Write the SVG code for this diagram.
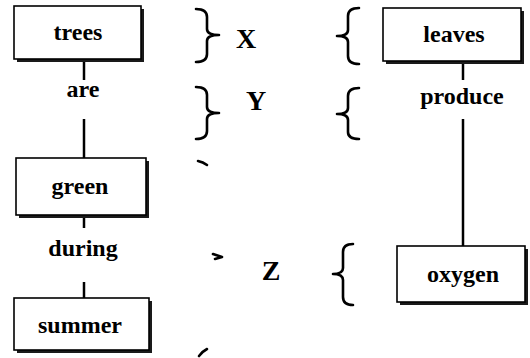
<svg xmlns="http://www.w3.org/2000/svg" width="530" height="358" viewBox="0 0 530 358">
<style>
.lbl{font-family:"Liberation Serif","Times New Roman",serif;font-weight:bold;font-size:24px;text-anchor:middle;fill:#000}
.big{font-family:"Liberation Serif","Times New Roman",serif;font-weight:bold;font-size:28px;text-anchor:middle;fill:#000}
.box{fill:#fff;stroke:#000;stroke-width:1.6}
.shd{fill:#1a1a1a}
.ln{stroke:#000;stroke-width:2.5;fill:none}
.br{stroke:#000;stroke-width:2.6;fill:none;stroke-linecap:round;stroke-linejoin:round}
</style>
<rect width="530" height="358" fill="#fff"/>
<g id="connectors">
<line class="ln" x1="84" y1="62" x2="84" y2="80"/>
<line class="ln" x1="84" y1="119" x2="84" y2="158"/>
<line class="ln" x1="84" y1="218" x2="84" y2="228"/>
<line class="ln" x1="84" y1="282" x2="84" y2="298"/>
<line class="ln" x1="463" y1="62" x2="463" y2="80"/>
<line class="ln" x1="463" y1="119" x2="463" y2="246"/>
</g>
<g id="node-trees">
<rect class="shd" x="17" y="9" width="127" height="53"/>
<rect class="box" x="14" y="6" width="127" height="53"/>
<text class="lbl" x="78" y="40">trees</text>
</g>
<g id="node-are"><text class="lbl" x="83" y="97">are</text></g>
<g id="node-green">
<rect class="shd" x="19" y="161" width="130" height="57"/>
<rect class="box" x="16" y="158" width="130" height="57"/>
<text class="lbl" x="80" y="194">green</text>
</g>
<g id="node-during"><text class="lbl" x="83" y="256">during</text></g>
<g id="node-summer">
<rect class="shd" x="17" y="301" width="135" height="52"/>
<rect class="box" x="14" y="298" width="135" height="52"/>
<text class="lbl" x="80" y="333">summer</text>
</g>
<g id="node-leaves">
<rect class="shd" x="386" y="11" width="138" height="53"/>
<rect class="box" x="383" y="8" width="138" height="53"/>
<text class="lbl" x="454" y="42">leaves</text>
</g>
<g id="node-produce"><text class="lbl" x="462" y="104">produce</text></g>
<g id="node-oxygen">
<rect class="shd" x="400" y="249" width="128" height="56"/>
<rect class="box" x="397" y="246" width="128" height="56"/>
<text class="lbl" x="463" y="282">oxygen</text>
</g>
<g id="node-X"><text class="big" x="246" y="48">X</text></g>
<g id="node-Y"><text class="big" x="256" y="110">Y</text></g>
<g id="node-Z"><text class="big" x="271" y="280">Z</text></g>
<g id="braces">
<path class="br" d="M196,9 Q207,9 207,17 L207,29 Q207,35 219,35 Q207,35 207,41 L207,54 Q207,62 196,62"/>
<path class="br" d="M196,87 Q207,87 207,95 L207,107 Q207,113 219,113 Q207,113 207,119 L207,131 Q207,139 196,139"/>
<path class="br" d="M359,8 Q348,8 348,16 L348,30 Q348,36 337,36 Q348,36 348,42 L348,56 Q348,64 359,64"/>
<path class="br" d="M359,88 Q348,88 348,96 L348,108 Q348,114 337,114 Q348,114 348,120 L348,132 Q348,139 359,139"/>
<path class="br" d="M353,244 Q343,244 343,252 L343,268 Q343,274 333,274 Q343,274 343,280 L343,297 Q343,305 353,305"/>
<path class="br" d="M198,161 Q203,162 207,165"/>
<path class="br" d="M213,254 L222,257 L215,259"/>
<path class="br" d="M199,356 Q203,351 207,349"/>
</g>
</svg>
